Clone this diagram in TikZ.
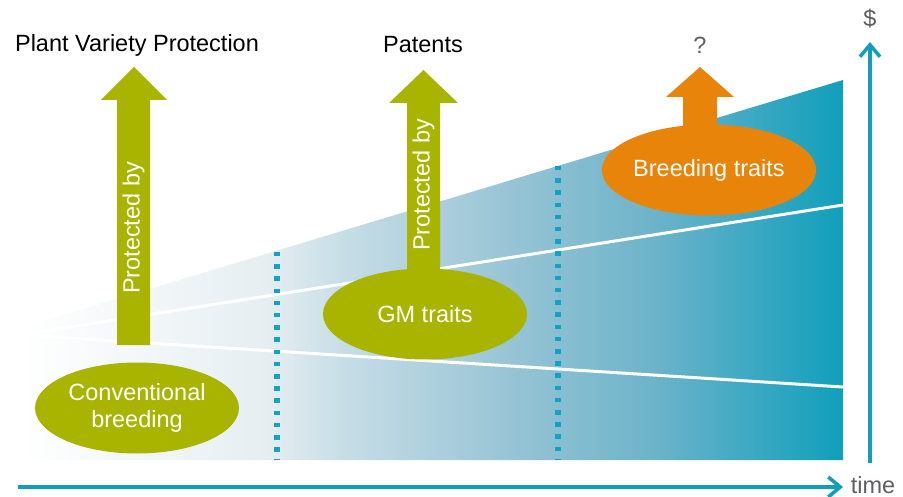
\documentclass[tikz,border=0pt]{standalone}
\usepackage{fontspec}
\setmainfont{Liberation Sans}
\usetikzlibrary{shapes.geometric, arrows.meta}
\definecolor{leafgreen}{HTML}{A8B400}
\definecolor{carrot}{HTML}{E8840A}
\definecolor{seablue}{HTML}{109FBB}
\definecolor{dotblue}{HTML}{0FA3C6}
\definecolor{labelgray}{HTML}{5F5F63}
\definecolor{paleblue}{HTML}{E6EEF2}
\definecolor{lightblue}{HTML}{C6DDE6}
\definecolor{midblue}{HTML}{9CC6D6}
\definecolor{deepblue}{HTML}{6DB3CA}
\pgfdeclarehorizontalshading{growth}{100bp}{color(0bp)=(white);
    color(25bp)=(white); color(40bp)=(paleblue); color(44.75bp)=(lightblue);
    color(53.85bp)=(midblue); color(63.5bp)=(deepblue);
    color(75bp)=(seablue); color(100bp)=(seablue)}
\tikzstyle{trait} = [ellipse, fill=leafgreen, text=white, align=center,
                 minimum width=204pt, minimum height=91pt, inner sep=0pt]
\tikzstyle{branch} = [draw=white, line width=3pt]
\tikzstyle{border} = [dotblue, line width=5.5pt, dash pattern=on 4.5pt off 7.7pt]
\tikzstyle{axis} = [seablue, line width=3.5pt, -{Straight Barb[length=12pt,width=20pt]}]

\begin{document}
\begin{tikzpicture}[x=1pt, y=-1pt, font=\fontsize{23.5}{27}\selectfont]

\useasboundingbox (0,0) rectangle (903,497);

\shade [shading=growth]
    (20,328) -- (843,80) -- (843,460) -- (20,460) -- cycle;

\coordinate (origin) at (20,335);
\coordinate (upper end) at (843,205);
\coordinate (lower end) at (843,387);
\path [branch] (origin) -- (upper end);
\path [branch] (origin) -- (lower end);

	%phases
\foreach \x/\top in {277/252, 558/166}
	\draw [border] (\x,\top) -- (\x,460);

\coordinate (time start) at (18,487);
\coordinate (time end) at (843,487);
\coordinate (money start) at (870,463);
\coordinate (money end) at (870,42);
\draw [axis] (time start) -- (time end);
\draw [axis] (money start) -- (money end);

\fill [leafgreen] (117,345) -- (117,100) -- (101,100) -- (134,67) -- (167,100)
    -- (150,100) -- (150,345) -- cycle;
\fill [leafgreen] (407,272) -- (407,103) -- (389,103) -- (423.5,70) -- (458,103)
    -- (440,103) -- (440,272) -- cycle;
\fill [carrot] (683,130) -- (683,97) -- (666,97) -- (700,67) -- (734,97)
    -- (717,97) -- (717,130) -- cycle;

\node [rotate=90, text=white] (pvp by) at (133.5,228) {Protected by};
\node [rotate=90, text=white] (patent by) at (423.5,185) {Protected by};

\node [trait] (conv) at (137,408) {Conventional\\breeding};
\node [trait] (gm) at (425,314) {GM traits};
\node [trait, fill=carrot] (breed) at (709,170) {Breeding traits};

\node (pvp) at (137,45) {Plant Variety Protection};
\node (patents) at (423,45) {Patents};
\node [text=labelgray] (unknown) at (700,45) {?};
\node [text=labelgray] (dollar) at (870,19) {\$};
\node [text=labelgray] (time) at (873,485) {time};

\end{tikzpicture}
\end{document}
